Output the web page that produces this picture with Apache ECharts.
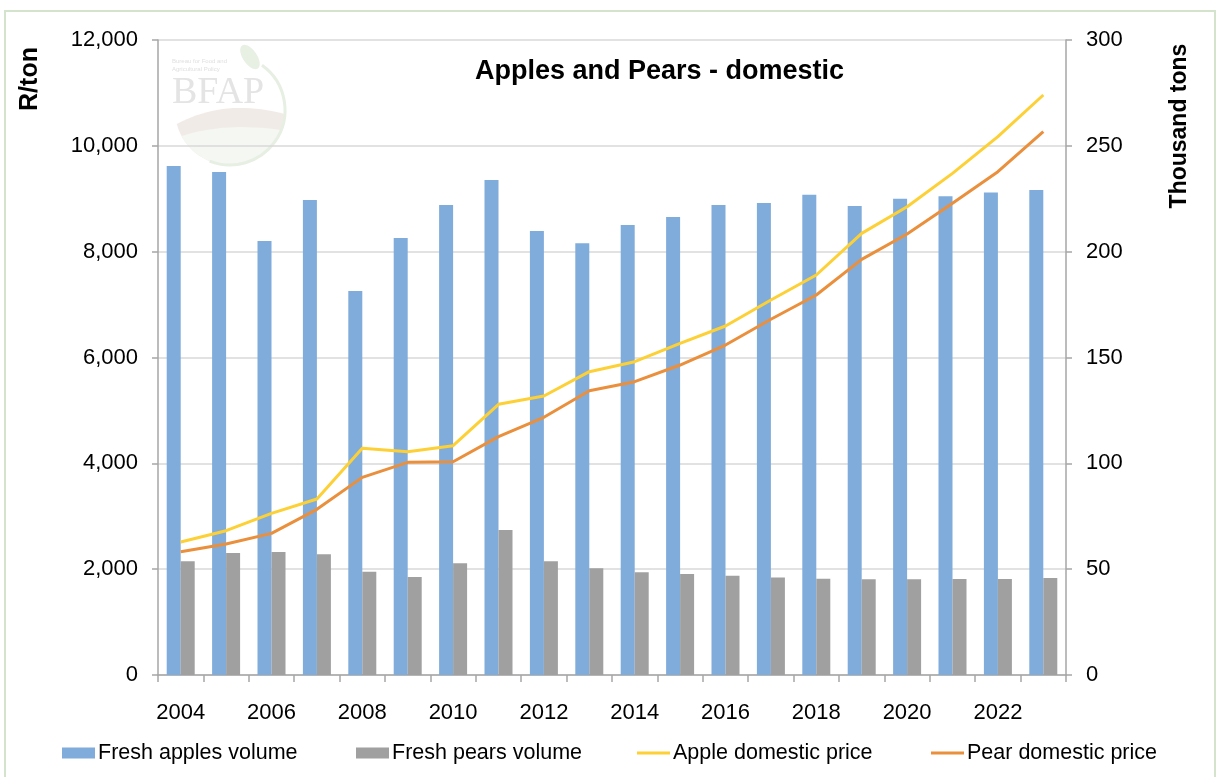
<!DOCTYPE html>
<html>
<head>
<meta charset="utf-8">
<title>Apples and Pears - domestic</title>
<script src="https://cdn.jsdelivr.net/npm/echarts@6/dist/echarts.min.js"></script>
<style>
  html, body { margin: 0; padding: 0; background: #ffffff; }
  #chart { width: 1220px; height: 777px; }
</style>
</head>
<body>
<div id="chart"></div>
<script>
// Marketing years on the category axis
const years = ['2004','2005','2006','2007','2008','2009','2010','2011','2012','2013',
               '2014','2015','2016','2017','2018','2019','2020','2021','2022','2023'];

// Volumes, thousand tons (right axis)
const applesVolume = [240.5, 237.6, 205.0, 224.4, 181.4, 206.5, 222.0, 233.9, 209.8, 204.0,
                      212.6, 216.4, 222.0, 223.0, 226.9, 221.6, 225.0, 226.2, 228.0, 229.1];
const pearsVolume  = [53.7, 57.6, 58.1, 57.0, 48.8, 46.3, 52.8, 68.5, 53.7, 50.4,
                      48.5, 47.7, 46.9, 46.1, 45.5, 45.2, 45.2, 45.4, 45.4, 45.8];

// Domestic prices, R/ton (left axis)
const applePrice = [2513, 2727, 3055, 3326, 4283, 4220, 4333, 5116, 5272, 5732,
                    5921, 6268, 6595, 7087, 7559, 8346, 8850, 9480, 10173, 10961];
const pearPrice  = [2331, 2476, 2677, 3131, 3735, 4019, 4031, 4504, 4870, 5373,
                    5543, 5858, 6236, 6722, 7181, 7855, 8334, 8913, 9512, 10268];

// Axis scales
const priceMax = 12000, priceStep = 2000;
const volumeMax = 300, volumeStep = 50;

const FONT = "'Liberation Sans', Arial, Helvetica, sans-serif";
const C = {
  apples: '#80acdc',
  pears: '#a0a0a0',
  applePrice: '#fdd035',
  pearPrice: '#ea8f3b',
  grid: '#d9d9d9',
  axis: '#a6a6a6'
};

// Logo emblem: a round badge with a rolling field across its lower half
const LOGO = { cx: 230, cy: 110, r: 55 };
function fieldShape(yLeft, yCtrl, yRight) {
  const pts = [];
  const xl = LOGO.cx - Math.sqrt(LOGO.r * LOGO.r - Math.pow(yLeft - LOGO.cy, 2));
  const xr = LOGO.cx + Math.sqrt(LOGO.r * LOGO.r - Math.pow(yRight - LOGO.cy, 2));
  const xc = LOGO.cx - 5;
  for (let i = 0; i <= 20; i++) {
    const t = i / 20;
    const x = (1 - t) * (1 - t) * xl + 2 * t * (1 - t) * xc + t * t * xr;
    const y = (1 - t) * (1 - t) * yLeft + 2 * t * (1 - t) * yCtrl + t * t * yRight;
    pts.push([x, y]);
  }
  const a0 = Math.atan2(yRight - LOGO.cy, xr - LOGO.cx);
  const a1 = Math.atan2(yLeft - LOGO.cy, xl - LOGO.cx);
  for (let i = 1; i < 30; i++) {
    const a = a0 + (a1 - a0) * i / 30;
    pts.push([LOGO.cx + LOGO.r * Math.cos(a), LOGO.cy + LOGO.r * Math.sin(a)]);
  }
  return pts;
}

const chart = echarts.init(document.getElementById('chart'), null, { renderer: 'canvas' });

function legendAt(name, left, h) {
  return {
    data: [name],
    left: left,
    top: 742,
    padding: 0,
    icon: 'rect',
    itemWidth: 33,
    itemHeight: h,
    itemGap: 0,
    selectedMode: false,
    textStyle: { fontFamily: FONT, fontSize: 21.5, color: '#000', padding: [0, 0, 0, -2] }
  };
}

const option = {
  animation: false,
  backgroundColor: '#ffffff',
  textStyle: { fontFamily: FONT },
  title: {
    text: 'Apples and Pears - domestic',
    left: 475,
    top: 58,
    padding: 0,
    textStyle: { fontFamily: FONT, fontSize: 27, fontWeight: 'bold', color: '#000' }
  },
  legend: [
    legendAt('Fresh apples volume', 62, 11),
    legendAt('Fresh pears volume', 356, 11),
    legendAt('Apple domestic price', 637, 3),
    legendAt('Pear domestic price', 931, 3)
  ],
  grid: { left: 158, right: 154, top: 40, bottom: 102, containLabel: false },
  xAxis: {
    type: 'category',
    data: years,
    boundaryGap: true,
    axisLine: { show: true, lineStyle: { color: C.axis, width: 1.5 } },
    axisTick: { show: true, interval: 0, length: 7, lineStyle: { color: C.axis, width: 1.5 } },
    axisLabel: { interval: 1, margin: 27, fontFamily: FONT, fontSize: 22, color: '#000' },
    splitLine: { show: false }
  },
  yAxis: [
    {
      type: 'value',
      min: 0,
      max: priceMax,
      interval: priceStep,
      position: 'left',
      axisLine: { show: true, lineStyle: { color: C.axis, width: 1.5 } },
      axisTick: { show: true, length: 6, lineStyle: { color: C.axis, width: 1.5 } },
      axisLabel: {
        margin: 20,
        fontFamily: FONT,
        fontSize: 22,
        color: '#000',
        formatter: v => v.toLocaleString('en-US')
      },
      splitLine: { show: true, lineStyle: { color: C.grid, width: 1.5 } }
    },
    {
      type: 'value',
      min: 0,
      max: volumeMax,
      interval: volumeStep,
      position: 'right',
      axisLine: { show: true, lineStyle: { color: C.axis, width: 1.5 } },
      axisTick: { show: true, length: 6, lineStyle: { color: C.axis, width: 1.5 } },
      axisLabel: { margin: 20, fontFamily: FONT, fontSize: 22, color: '#000' },
      splitLine: { show: false }
    }
  ],
  graphic: [
    // outer frame
    {
      type: 'rect',
      silent: true,
      shape: { x: 5, y: 11, width: 1210, height: 770 },
      style: { fill: 'none', stroke: '#d3e3cc', lineWidth: 2 },
      z: 0
    },
    // faint BFAP watermark behind the plot
    {
      type: 'group',
      silent: true,
      z: -1,
      children: [
        {
          type: 'polygon',
          shape: { points: fieldShape(124, 98, 114) },
          style: { fill: '#f1ebe7' }
        },
        {
          type: 'polygon',
          shape: { points: fieldShape(136, 122, 130) },
          style: { fill: '#f4f7f2' }
        },
        {
          type: 'arc',
          shape: { cx: LOGO.cx, cy: LOGO.cy, r: LOGO.r, startAngle: -0.95, endAngle: 1.95, clockwise: true },
          style: { fill: 'none', stroke: '#e6efe2', lineWidth: 3 }
        },
        {
          type: 'ellipse',
          shape: { cx: 250, cy: 57, rx: 7, ry: 14 },
          rotation: 0.6,
          originX: 250,
          originY: 57,
          style: { fill: '#e8f0e4' }
        },
        {
          type: 'text',
          style: {
            x: 172, y: 74, text: 'BFAP',
            font: "38px 'Liberation Serif', 'DejaVu Serif', serif",
            fill: '#e4e4e4'
          }
        },
        {
          type: 'text',
          style: {
            x: 172, y: 57, text: 'Bureau for Food and\nAgricultural Policy',
            font: "6px 'Liberation Sans', Arial, sans-serif",
            lineHeight: 8,
            fill: '#e0e0e0'
          }
        }
      ]
    },
    // axis names
    {
      type: 'text',
      silent: true,
      x: 30,
      y: 79,
      rotation: Math.PI / 2,
      style: {
        text: 'R/ton',
        font: "bold 25px 'Liberation Sans', Arial, sans-serif",
        fill: '#000',
        align: 'center',
        verticalAlign: 'middle'
      }
    },
    {
      type: 'text',
      silent: true,
      x: 1180,
      y: 126,
      rotation: Math.PI / 2,
      style: {
        text: 'Thousand tons',
        font: "bold 23px 'Liberation Sans', Arial, sans-serif",
        fill: '#000',
        align: 'center',
        verticalAlign: 'middle'
      }
    }
  ],
  series: [
    {
      name: 'Fresh apples volume',
      type: 'bar',
      yAxisIndex: 1,
      data: applesVolume,
      barWidth: 14,
      barGap: '0%',
      itemStyle: { color: C.apples },
      z: 2
    },
    {
      name: 'Fresh pears volume',
      type: 'bar',
      yAxisIndex: 1,
      data: pearsVolume,
      barWidth: 14,
      barGap: '0%',
      itemStyle: { color: C.pears },
      z: 2
    },
    {
      name: 'Apple domestic price',
      type: 'line',
      yAxisIndex: 0,
      data: applePrice,
      showSymbol: false,
      symbol: 'none',
      lineStyle: { color: C.applePrice, width: 3 },
      itemStyle: { color: C.applePrice },
      z: 4
    },
    {
      name: 'Pear domestic price',
      type: 'line',
      yAxisIndex: 0,
      data: pearPrice,
      showSymbol: false,
      symbol: 'none',
      lineStyle: { color: C.pearPrice, width: 3 },
      itemStyle: { color: C.pearPrice },
      z: 3
    }
  ]
};

chart.setOption(option);
</script>
</body>
</html>
